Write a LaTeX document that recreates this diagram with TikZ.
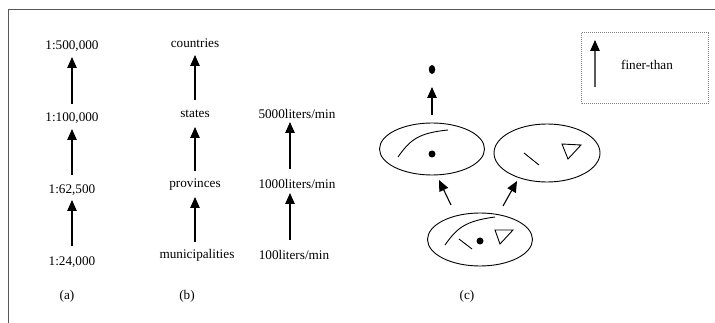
\documentclass[tikz,border=0pt]{standalone}
\usepackage{fontspec}
\setmainfont{Liberation Serif}
\usetikzlibrary{arrows.meta,calc,shapes.geometric}
\tikzset{
  lbl/.style={inner sep=0pt, font=\fontsize{13.2}{15}\selectfont},
  arr/.style={line width=1.1pt, -{Triangle[length=11pt,width=9.5pt]}},
  ell/.style={draw, line width=0.9pt, ellipse, inner sep=0pt},
  thin/.style={line width=0.9pt},
}
\begin{document}
\begin{tikzpicture}[x=1pt,y=-1pt]
\useasboundingbox (0,0) rectangle (715,323);
% frame
\draw[black!65, line width=1.4pt] (8.5,323) -- (8.5,9.5) -- (715,9.5);
% (a)
\node[lbl] (a1) at (72,46) {1:500,000};
\node[lbl] (a2) at (72,118) {1:100,000};
\node[lbl] (a3) at (72,190) {1:62,500};
\node[lbl] (a4) at (72,262) {1:24,000};
\draw[arr] ($(a2)+(0,-14)$) -- ($(a1)+(0,11)$);
\draw[arr] ($(a3)+(0,-15)$) -- ($(a2)+(0,11)$);
\draw[arr] ($(a4)+(0,-16)$) -- ($(a3)+(0,10)$);
\node[lbl] (la) at (67,296) {(a)};
% (b)
\node[lbl] (b1) at (195,43) {countries};
\node[lbl] (b2) at (195,114) {states};
\node[lbl] (b3) at (195,185) {provinces};
\node[lbl] (b4) at (197,255) {municipalities};
\coordinate (bx) at (195,0);
\draw[arr] ($(b2 -| bx)+(0,-14)$) -- ($(b1 -| bx)+(0,12)$);
\draw[arr] ($(b3 -| bx)+(0,-14)$) -- ($(b2 -| bx)+(0,13)$);
\draw[arr] ($(b4 -| bx)+(0,-13)$) -- ($(b3 -| bx)+(0,12)$);
\node[lbl] (c1) at (297,114) {5000liters/min};
\node[lbl] (c2) at (297,184) {1000liters/min};
\node[lbl] (c3) at (294,255) {100liters/min};
\coordinate (cx) at (290,0);
\draw[arr] ($(c2 -| cx)+(0,-15)$) -- ($(c1 -| cx)+(0,8)$);
\draw[arr] ($(c3 -| cx)+(0,-15)$) -- ($(c2 -| cx)+(0,9)$);
\node[lbl] (lb) at (187,296) {(b)};
% (c)
\node[ellipse, fill=black, minimum width=6.5pt, minimum height=9pt, inner sep=0pt] (top) at (432,69.5) {};
\node[ell, minimum width=105pt, minimum height=52pt] (e1) at (432,149) {};
\node[ell, minimum width=106pt, minimum height=58pt] (e2) at (547,153) {};
\node[ell, minimum width=105pt, minimum height=53pt] (e3) at (480,239.5) {};
\draw[arr] (e1.north) ++(0,-8) coordinate (s0) -- ($(top)+(0,17.5)$);
\coordinate (s1) at (451,205); \coordinate (t1) at (439,180);
\coordinate (s2) at (503,206); \coordinate (t2) at (517,181);
\draw[arr] (s1) -- (t1);
\draw[arr] (s2) -- (t2);
% contents e1
\draw[thin] (398,157) .. controls (410,140) and (418,133) .. (448,130);
\fill (432,154) circle (3.5pt);
% contents e2
\draw[thin] (524,153) -- (539,165);
\draw[thin] (562,144) -- (581,145) -- (568,159) -- cycle;
% contents e3
\draw[thin] (445,245) .. controls (457,228) and (465,221) .. (495,217);
\draw[thin] (459,239) -- (472,249);
\fill (480,241) circle (3.5pt);
\draw[thin] (495,230) -- (513,230) -- (500,244) -- cycle;
\node[lbl] (lc) at (467,296) {(c)};
% legend
\draw[black!50, densely dotted, line width=1pt] (581,33) rectangle (708,104);
\coordinate (g1) at (595,87); \coordinate (g2) at (595,40);
\draw[line width=1.1pt, black!65, -{Triangle[length=11pt,width=9.5pt,color=black]}] (g1) -- (g2);
\node[lbl] (leg) at (647,65) {finer-than};
\end{tikzpicture}
\end{document}
